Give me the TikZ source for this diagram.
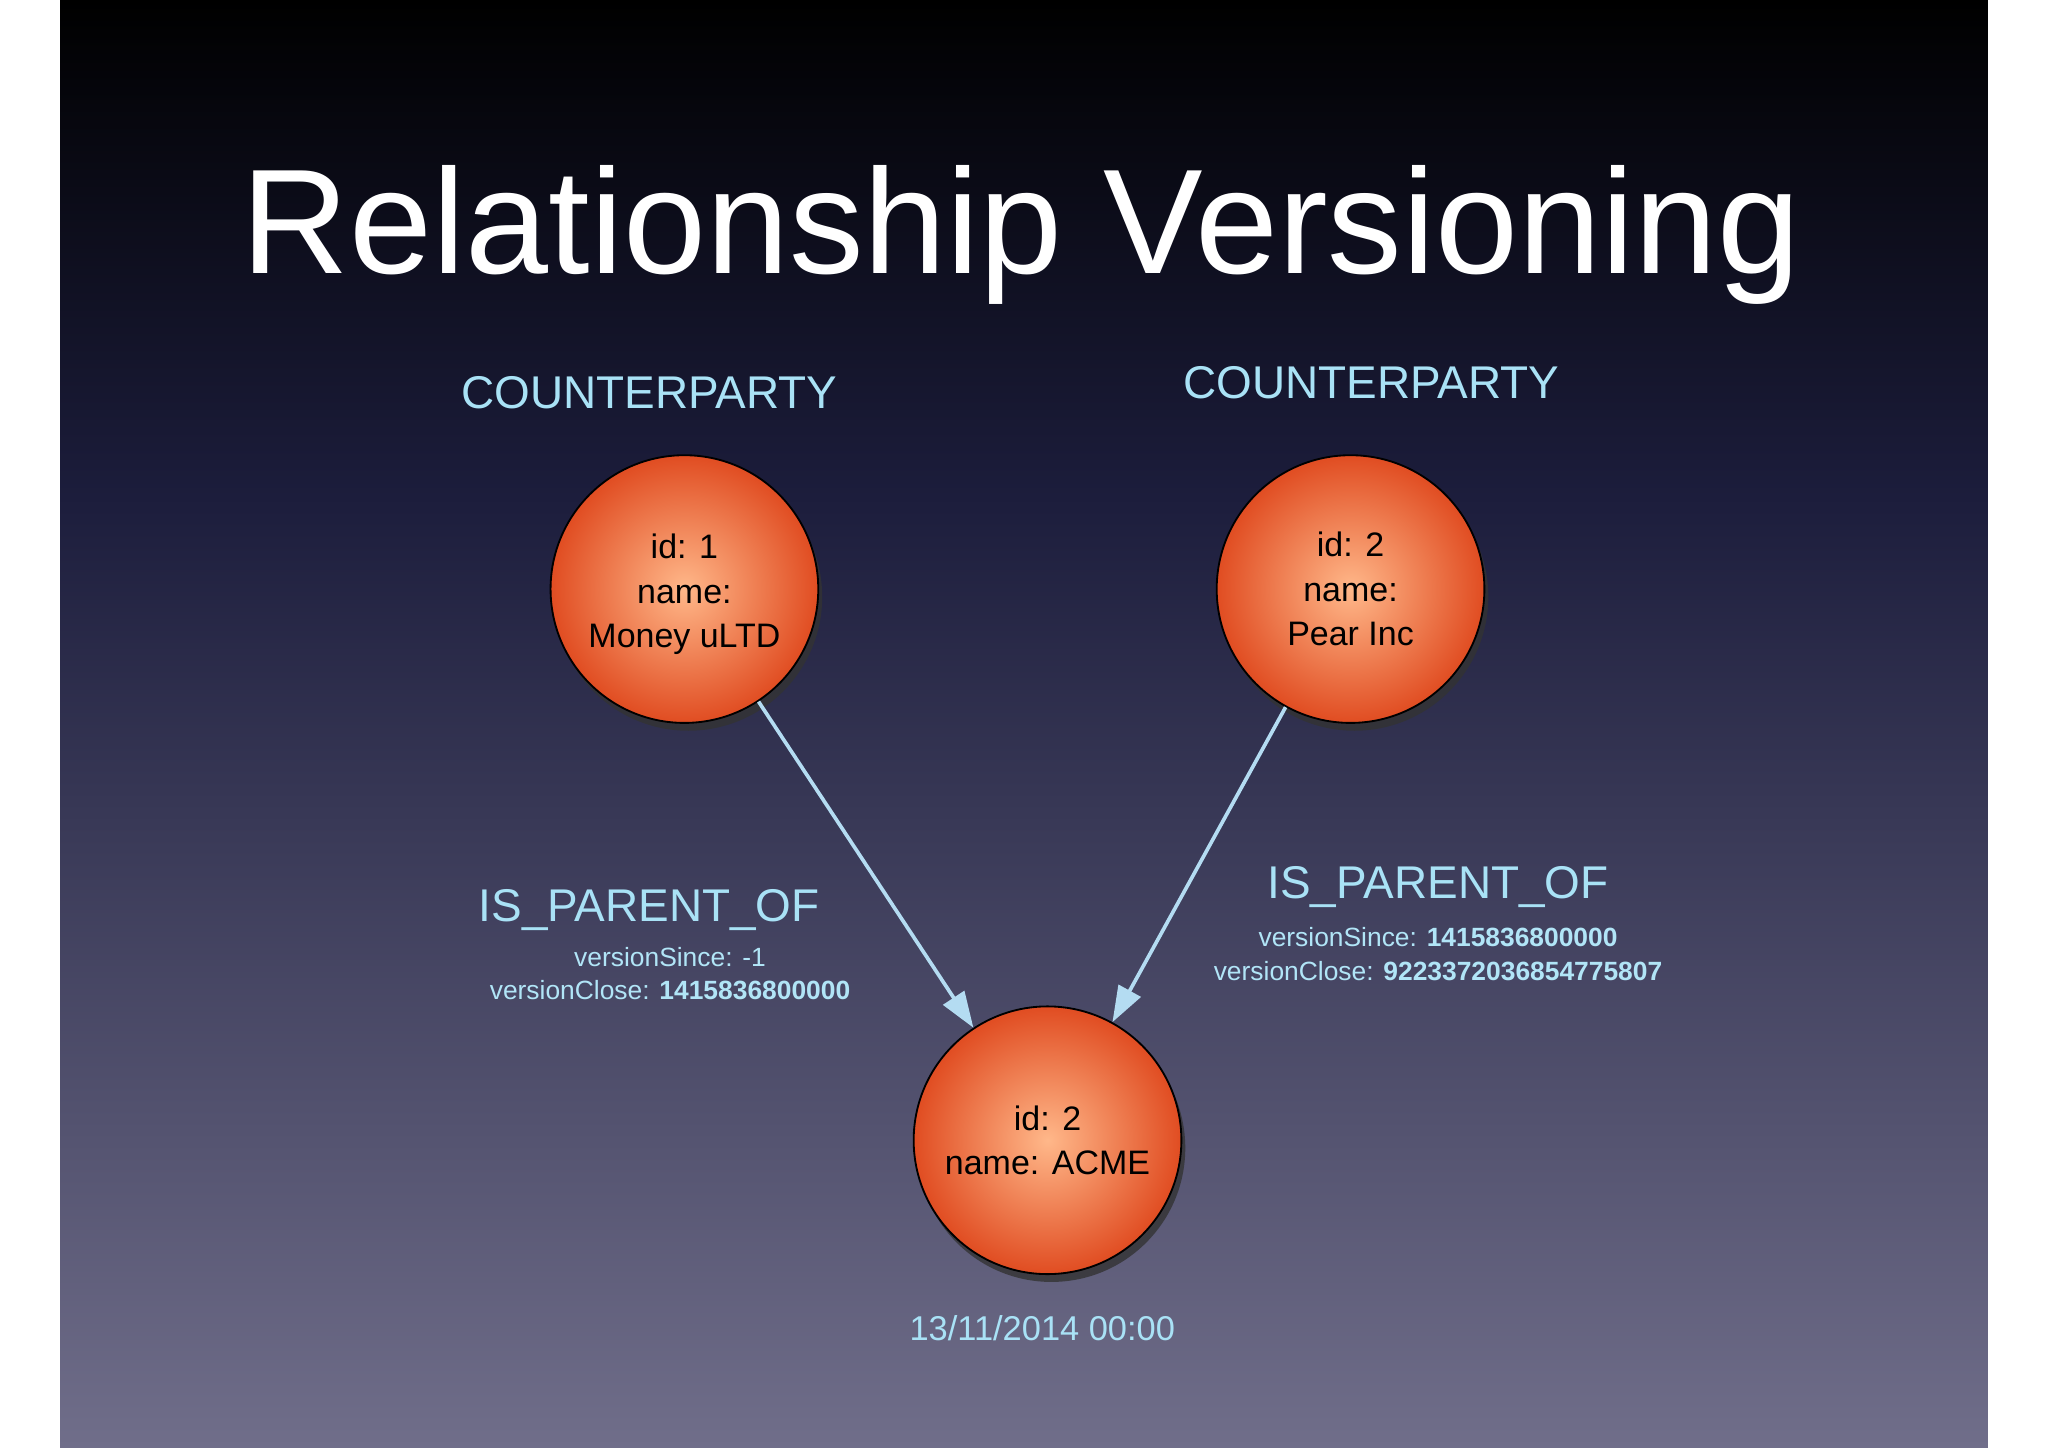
\documentclass[tikz,border=0pt]{standalone}
\usepackage{fontspec}
\setmainfont{Liberation Sans}
\usetikzlibrary{shadows,arrows.meta}
\definecolor{lbl}{HTML}{A9E2F6}
\definecolor{arr}{HTML}{B4DCF2}
\definecolor{bgmid}{HTML}{1C1D3C}
\definecolor{bgbot}{HTML}{706E8A}
\tikzset{
 ent/.style={circle,draw=black,line width=0.8pt,minimum size=4.1cm,inner color=orange!40!white!90!red,outer color=red!55!orange!85!white!88!black,
   drop shadow={shadow xshift=0.06cm,shadow yshift=-0.12cm,opacity=0.8,fill=black!80},align=center,font=\fontsize{14.8}{19.3}\selectfont,text=black},
 hdr/.style={text=lbl,font=\fontsize{20}{24}\selectfont},
 small/.style={text=lbl!90!white,font=\fontsize{11.5}{14.5}\selectfont,align=center},
 conn/.style={draw=arr,line width=1.6pt,-{Triangle[length=0.55cm,width=0.38cm]}}
}
\begin{document}
\begin{tikzpicture}[x=0.02cm,y=-0.02cm]
\useasboundingbox (0,0) rectangle (1568,1108);
\fill[white] (0,0) rectangle (1568,1108);
\shade[top color=black,bottom color=bgmid] (46,0) rectangle (1522,380);
\shade[top color=bgmid,bottom color=bgbot] (46,379.5) rectangle (1522,1108);
\node[text=white,font=\fontsize{65}{72}\selectfont] (title) at (782,180) {Relationship Versioning};
\node[hdr] (h1) at (497,301) {COUNTERPARTY};
\node[hdr] (h2) at (1050,293) {COUNTERPARTY};
\node[ent] (a) at (524,451) {id: 1\\name:\\Money uLTD\\[-1.4em]};
\node[ent] (b) at (1034,451) {id: 2\\name:\\Pear Inc};
\node[ent] (c) at (802,873) {id: 2\\name: ACME};
\draw[conn] (a) -- (c);
\draw[conn] (b) -- (c);
\node[hdr] (l1) at (497,697) {IS\_PARENT\_OF};
\node[small,anchor=north] (s1) at (513,719) {versionSince: -1\\versionClose: \textbf{1415836800000}};
\node[hdr] (l2) at (1101,679) {IS\_PARENT\_OF};
\node[small,anchor=north] (s2) at (1101,704) {versionSince: \textbf{1415836800000}\\versionClose: \textbf{9223372036854775807}};
\node[hdr,font=\fontsize{15}{18}\selectfont] (d) at (798,1017) {13/11/2014 00:00};
\end{tikzpicture}
\end{document}
